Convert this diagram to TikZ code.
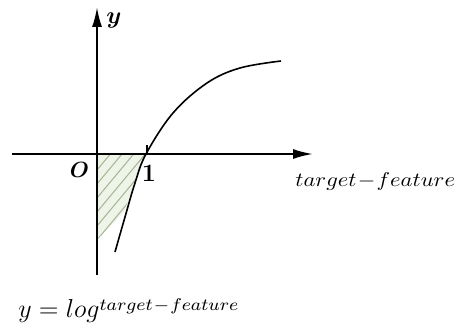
\RequirePackage{fix-cm}
\documentclass[tikz,border=0pt]{standalone}
\usepackage{amsmath}
\usepackage{bm}
\usepackage{graphicx}
\usetikzlibrary{arrows.meta}

\definecolor{hatchfill}{RGB}{238,244,232}
\definecolor{hatchline}{RGB}{165,180,150}
\newcommand{\tfeat}{target\mkern1mu{-}\mkern1mu feature}

\begin{document}
\begin{tikzpicture}[x=0.5pt,y=0.5pt,
  axis/.style={line width=1pt, -{Latex[length=10pt,width=5pt]}},
  bigtext/.style={inner sep=0pt, font=\fontsize{#1}{#1}\selectfont}]
\useasboundingbox (0,0) rectangle (459,327);

% shaded area below the axis
\begin{scope}
\clip (97,173) -- (146,173) -- plot[smooth] coordinates {(146,173) (135,144) (124,115)} -- (97,87) -- cycle;
\fill[hatchfill] (90,80) rectangle (150,180);
\foreach \k in {0,...,8}
  \draw[hatchline, line width=0.5pt] (97,87+14*\k) -- ++(55,66);
\end{scope}

% axes
\draw[axis] (12,173) -- (313,173);
\draw[axis] (97,52) -- (97,320);
\draw[line width=0.8pt] (147,173) -- (147,182);

% log curve
\draw[line width=0.8pt] plot[smooth, tension=0.6] coordinates {(115,75) (125,110) (135,144) (146,173) (173,214) (207,244) (240,259) (281,266)};

\node[bigtext=12] (ylab) at (114,306) {$\bm{y}$};
\node[bigtext=11] (olab) at (79.5,157) {$\bm{O}$};
\node[bigtext=12.5] (one) at (149,154) {$\mathbf{1}$};
\node[bigtext=10, anchor=base west] (xlab) at (295,141) {\scalebox{1.13}[1]{$\tfeat$}};
\node[bigtext=13, anchor=base west] (formula) at (18,10)
  {$y = log$\raisebox{3.5pt}{\fontsize{8.5}{10}\selectfont\scalebox{1.09}[1]{$\tfeat$}}};
\end{tikzpicture}
\end{document}
